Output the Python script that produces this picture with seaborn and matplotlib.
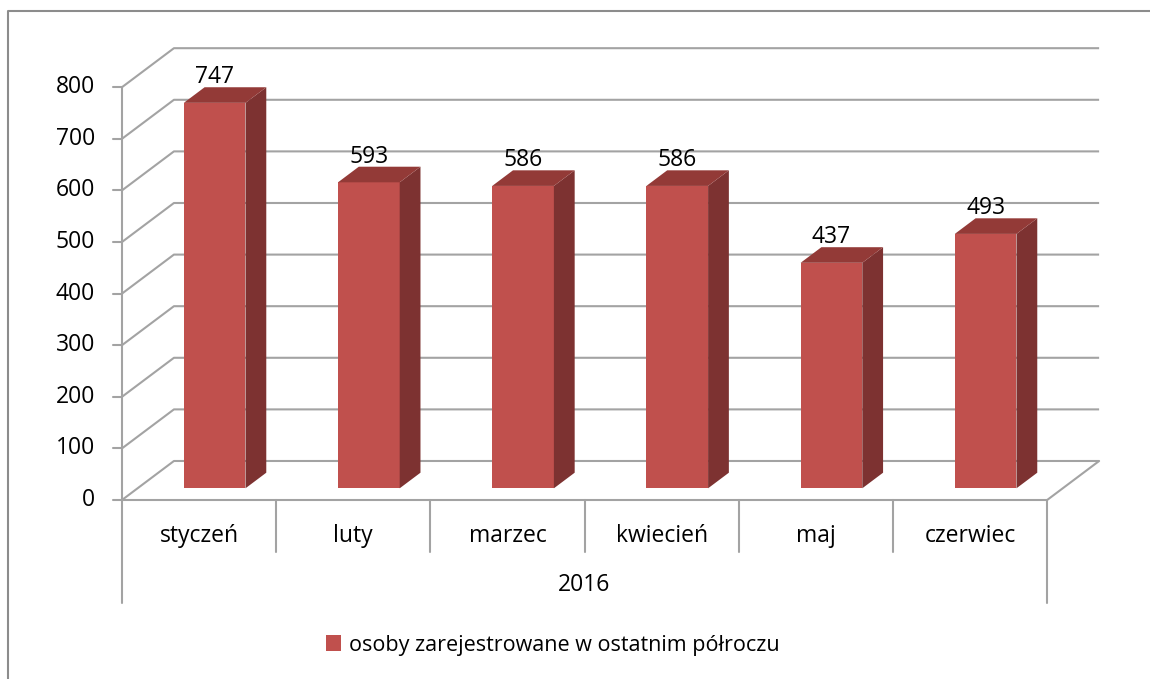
import matplotlib.pyplot as plt
import pandas as pd
import seaborn as sns
from matplotlib.patches import Polygon
from matplotlib.lines import Line2D

# data
months = ['styczeń', 'luty', 'marzec', 'kwiecień', 'maj', 'czerwiec']
values = [747, 593, 586, 586, 437, 493]
year_label = '2016'
series_name = 'osoby zarejestrowane w ostatnim półroczu'
yticks = [0, 100, 200, 300, 400, 500, 600, 700, 800]

df = pd.DataFrame({'miesiac': months, 'osoby': values})

sns.set_theme(style='white')
plt.rcParams['font.family'] = ['Open Sans', 'DejaVu Sans']
plt.rcParams['text.color'] = 'black'

FRONT = '#C0504D'
SIDE = '#7D3231'
TOP = '#933A37'
GRID = '#A3A3A3'
FS = 16.5

# fake 3D: depth of the floor expressed in category / value units
DX, DY = 0.337, 75.6
D0, D1 = 0.30, 0.70  # front and back of the bars inside the floor depth
n = len(months)

fig = plt.figure(figsize=(11.5, 6.79), dpi=100)
ax = fig.add_axes([0, 0, 1, 1])

sns.barplot(data=df, x='miesiac', y='osoby', color=FRONT, saturation=1,
            width=0.4, linewidth=0, edgecolor='none', ax=ax, zorder=3)

# move the bars into the box and add side + top faces
bars = ax.containers[0]
for p in bars:
    w = p.get_width()
    h = p.get_height()
    x0 = p.get_x() + D0 * DX
    y0 = D0 * DY
    p.set_x(x0)
    p.set_y(y0)
    ddx = (D1 - D0) * DX
    ddy = (D1 - D0) * DY
    side = [(x0 + w, y0), (x0 + w + ddx, y0 + ddy),
            (x0 + w + ddx, y0 + h + ddy), (x0 + w, y0 + h)]
    top = [(x0, y0 + h), (x0 + w, y0 + h),
           (x0 + w + ddx, y0 + h + ddy), (x0 + ddx, y0 + h + ddy)]
    ax.add_patch(Polygon(side, closed=True, facecolor=SIDE, edgecolor='none', zorder=3))
    ax.add_patch(Polygon(top, closed=True, facecolor=TOP, edgecolor='none', zorder=3))
    ax.annotate(f'{int(h)}', (x0 + w / 2, y0 + h + ddy), xytext=(0, 3),
                textcoords='offset points', ha='center', va='baseline',
                fontsize=FS, zorder=4)

# back wall grid, left wall diagonals, ticks
for v in yticks:
    ax.plot([-0.5, -0.5 + DX, n - 0.5 + DX], [v, v + DY, v + DY],
            color=GRID, lw=1.5, zorder=1, solid_capstyle='butt')
    ax.plot([-0.555, -0.5], [v, v], color=GRID, lw=1.5, zorder=1)
    ax.text(-0.675, v, str(v), ha='right', va='center', fontsize=FS)

# floor front and right edges
ax.plot([-0.5, n - 0.5, n - 0.5 + DX], [0, 0, DY], color=GRID, lw=1.5, zorder=2)

# category table under the floor
ax.plot([-0.5, -0.5], [yticks[-1], -199.6], color=GRID, lw=1.5, zorder=2)
ax.plot([n - 0.5, n - 0.5], [0, -199.6], color=GRID, lw=1.5, zorder=2)
for i in range(1, n):
    ax.plot([i - 0.5, i - 0.5], [0, -100.8], color=GRID, lw=1.5, zorder=2)
for i, m in enumerate(months):
    ax.text(i, -69.8, m, ha='center', va='center', fontsize=FS)
ax.text((n - 1) / 2, -164.7, year_label, ha='center', va='center', fontsize=FS)

ax.legend([bars], [series_name], loc='center',
          bbox_to_anchor=(553 / 1150, 1 - 645 / 679), bbox_transform=fig.transFigure,
          frameon=False, fontsize=15.5, handlelength=0.7, handleheight=0.7,
          handletextpad=0.35)

ax.set_xlim(-1.291, 6.167)
ax.set_ylim(-346.9, 969)
ax.axis('off')

# chart area border
fig.add_artist(Line2D([8 / 1150, 8 / 1150, 1], [0, 1 - 11 / 679, 1 - 11 / 679],
                      transform=fig.transFigure, color='#8C8C8C', lw=1.5))

fig.savefig('out.png', dpi=100)
